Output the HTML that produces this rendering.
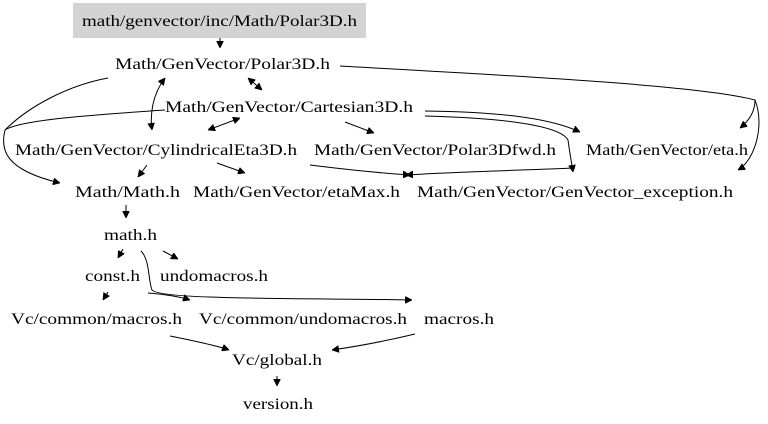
<!DOCTYPE html>
<html><head><meta charset="utf-8"><style>
html,body{margin:0;padding:0;background:#fff;}
svg{display:block;}
text{font-family:"Liberation Serif",serif;font-size:16px;fill:#000;}
path{fill:none;stroke:#000;stroke-width:1;}
</style></head><body>
<svg width="768" height="424" viewBox="0 0 768 424" xmlns="http://www.w3.org/2000/svg">
<defs><marker id="a" viewBox="0 0 10 10" refX="10" refY="5" markerWidth="7" markerHeight="7" orient="auto-start-reverse" markerUnits="userSpaceOnUse"><path d="M0,0 L10,5 L0,10 z" style="fill:#000;stroke:#000"/></marker></defs>
<rect x="73" y="3" width="293" height="35" fill="#d3d3d3"/>
<text x="82" y="26" textLength="275" lengthAdjust="spacingAndGlyphs">math/genvector/inc/Math/Polar3D.h</text>
<text x="115" y="69" textLength="215" lengthAdjust="spacingAndGlyphs">Math/GenVector/Polar3D.h</text>
<text x="165" y="112" textLength="248" lengthAdjust="spacingAndGlyphs">Math/GenVector/Cartesian3D.h</text>
<text x="15" y="155" textLength="282" lengthAdjust="spacingAndGlyphs">Math/GenVector/CylindricalEta3D.h</text>
<text x="314" y="155" textLength="242" lengthAdjust="spacingAndGlyphs">Math/GenVector/Polar3Dfwd.h</text>
<text x="586" y="155" textLength="162" lengthAdjust="spacingAndGlyphs">Math/GenVector/eta.h</text>
<text x="75" y="197" textLength="105" lengthAdjust="spacingAndGlyphs">Math/Math.h</text>
<text x="193" y="197" textLength="207" lengthAdjust="spacingAndGlyphs">Math/GenVector/etaMax.h</text>
<text x="417" y="197" textLength="316" lengthAdjust="spacingAndGlyphs">Math/GenVector/GenVector_exception.h</text>
<text x="104" y="240" textLength="53" lengthAdjust="spacingAndGlyphs">math.h</text>
<text x="85" y="281" textLength="55" lengthAdjust="spacingAndGlyphs">const.h</text>
<text x="160" y="281" textLength="108" lengthAdjust="spacingAndGlyphs">undomacros.h</text>
<text x="11" y="324" textLength="171" lengthAdjust="spacingAndGlyphs">Vc/common/macros.h</text>
<text x="199" y="324" textLength="208" lengthAdjust="spacingAndGlyphs">Vc/common/undomacros.h</text>
<text x="424" y="324" textLength="70" lengthAdjust="spacingAndGlyphs">macros.h</text>
<text x="232" y="365" textLength="90" lengthAdjust="spacingAndGlyphs">Vc/global.h</text>
<text x="243" y="409" textLength="70" lengthAdjust="spacingAndGlyphs">version.h</text>

<path d="M220,38 L220,48" marker-end="url(#a)"/>
<path d="M340,66 C500,75 700,85 755,100 C765,125 755,160 738,170" marker-end="url(#a)"/>
<path d="M755,100 C755,110 750,120 740,128" marker-end="url(#a)"/>
<path d="M108,78 C70,85 30,105 5,130 C0,150 5,170 60,183" marker-end="url(#a)"/>
<path d="M165,78 C152,95 150,115 152,130" marker-end="url(#a)" marker-start="url(#a)"/>
<path d="M248,78 L262,90" marker-end="url(#a)" marker-start="url(#a)"/>
<path d="M165,110 C90,115 20,120 5,130"/>
<path d="M240,118 L208,130" marker-end="url(#a)" marker-start="url(#a)"/>
<path d="M345,122 L374,133" marker-end="url(#a)"/>
<path d="M425,111 C500,112 550,118 580,132" marker-end="url(#a)"/>
<path d="M425,116 C500,118 560,125 568,140 C570,155 572,165 573,172" marker-end="url(#a)"/>
<path d="M147,165 L138,177" marker-end="url(#a)"/>
<path d="M217,163 L245,173" marker-end="url(#a)"/>
<path d="M310,165 C350,170 380,173 410,175" marker-end="url(#a)"/>
<path d="M575,168 C530,170 450,172 406,175" marker-end="url(#a)"/>
<path d="M126,205 L126,218" marker-end="url(#a)"/>
<path d="M123,249 L118,258" marker-end="url(#a)"/>
<path d="M163,251 L178,259" marker-end="url(#a)"/>
<path d="M141,251 C150,260 148,280 152,290 C160,300 300,298 412,300" marker-end="url(#a)"/>
<path d="M148,293 C160,294 178,296 190,300" marker-end="url(#a)"/>
<path d="M108,292 L103,300" marker-end="url(#a)"/>
<path d="M170,336 C200,342 218,346 229,350" marker-end="url(#a)"/>
<path d="M415,334 C390,340 360,346 332,350" marker-end="url(#a)"/>
<path d="M277,376 L277,386" marker-end="url(#a)"/>
</svg>
</body></html>
